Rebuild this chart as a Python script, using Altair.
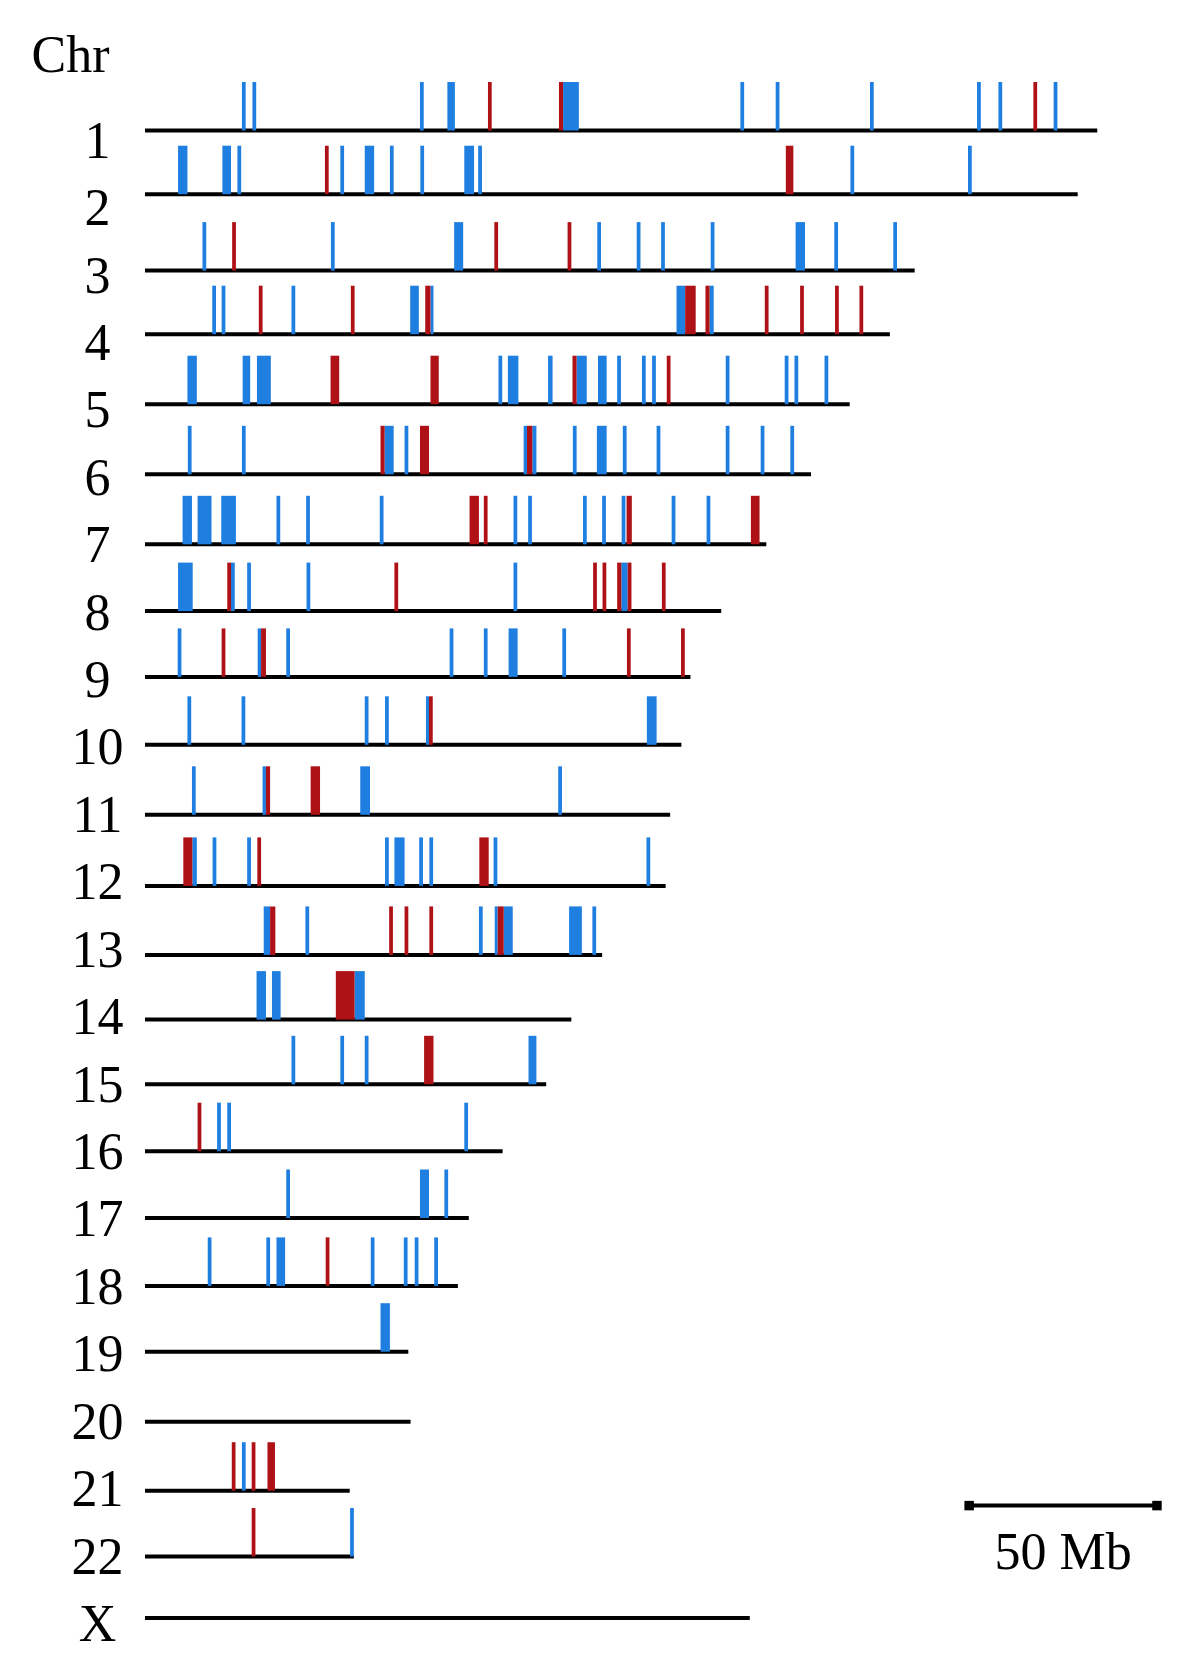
import altair as alt
import pandas as pd

# ---------------- data (in Mb) ----------------
CHROMS = ["1", "2", "3", "4", "5", "6", "7", "8", "9", "10", "11", "12",
          "13", "14", "15", "16", "17", "18", "19", "20", "21", "22", "X"]
LENGTHS_MB = [253.5, 248.3, 204.9, 198.3, 187.6, 177.3, 165.4, 153.4, 145.2,
              142.8, 139.8, 138.6, 121.7, 113.5, 106.8, 95.2, 86.2, 83.3,
              70.1, 70.7, 54.5, 55.6, 161.0]

# single value = one thin tick centred there; (start, end) = a wider block
BLUE_MARKS = {
    "1": [26.3, 29.1, 73.7, (80.5, 82.5), (111.3, 115.5), 159.0, 168.4,
          193.5, 222.0, 227.7, 242.4],
    "2": [(8.8, 11.3), (20.6, 22.9), 25.1, 52.5, (58.5, 61.0), 65.7, 73.8,
          (85.0, 87.6), 89.2, 188.3, 219.6],
    "3": [15.8, 50.0, (82.3, 84.7), 120.9, 131.4, 137.9, 151.1, (173.2, 175.7),
          184.0, 199.7],
    "4": [18.4, 20.9, 39.5, (70.6, 72.9), (76.0, 76.8), (141.5, 143.8),
          (150.3, 151.4)],
    "5": [(11.3, 13.8), (26.0, 28.0), (29.8, 33.5), 94.6, (96.6, 99.4),
          (107.3, 108.5), (114.9, 117.6), (120.6, 122.9), 126.2, 132.8, 135.5,
          155.1, 170.8, 173.4, 181.4],
    "6": [11.9, 26.3, (63.8, 66.2), 69.6, (100.8, 101.7), (103.1, 104.2),
          114.4, (120.3, 122.9), 127.7, 136.7, 155.1, 164.4, 172.3],
    "7": [(10.0, 12.5), (14.0, 17.7), (20.3, 24.2), 35.5, 43.4, 63.0, 98.6,
          102.5, 117.1, 122.2, 127.4, 140.7, 150.0],
    "8": [(8.8, 12.7), (22.9, 23.9), 27.7, 43.5, 98.6, (126.8, 128.5)],
    "9": [9.2, (30.0, 30.9), 38.1, 81.6, 90.7, (96.8, 99.2), 111.6],
    "10": [11.8, 26.2, 59.0, 64.4, (74.8, 75.6), (133.6, 136.2)],
    "11": [13.0, (31.3, 32.2), (57.3, 59.9), 110.5],
    "12": [(12.6, 13.8), 18.5, 27.7, 64.4, (66.4, 69.1), 73.5, 76.2, 93.3, 134.0],
    "13": [(31.6, 33.3), 43.2, 89.4, (93.1, 93.9), (95.5, 97.9), (112.9, 116.3),
           119.6],
    "14": [(29.7, 32.2), (33.8, 36.1), (55.8, 58.5)],
    "15": [39.5, 52.5, 59.0, (102.1, 104.2)],
    "16": [19.7, 22.4, 85.5],
    "17": [38.1, (73.2, 75.6), 80.2],
    "18": [17.2, 32.8, (35.0, 37.3), 60.6, 69.4, 72.3, 77.5],
    "19": [(62.7, 65.2)],
    "21": [26.3],
    "22": [55.1],
}

RED_MARKS = {
    "1": [91.8, (110.2, 111.3), 237.0],
    "2": [48.4, (170.6, 172.6)],
    "3": [23.7, 93.5, 113.0],
    "4": [30.8, 55.3, (74.6, 76.0), (143.8, 146.6), (149.2, 150.3), 165.5,
          174.9, 184.2, 190.7],
    "5": [(49.4, 51.7), (76.0, 78.2), (113.8, 114.9), 139.4],
    "6": [(62.7, 63.8), (73.2, 75.6), (101.7, 103.1)],
    "7": [(86.4, 88.9), 90.7, (128.2, 129.6), (161.3, 163.6)],
    "8": [(21.9, 22.9), 66.9, 119.8, 122.3, (125.7, 126.8), (128.5, 129.5), 138.1],
    "9": [20.9, (30.9, 32.2), 128.8, 143.2],
    "10": [(75.6, 76.6)],
    "11": [(32.2, 33.3), (44.1, 46.6)],
    "12": [(10.2, 12.6), 30.4, (89.0, 91.5)],
    "13": [(33.3, 34.7), 65.5, 69.6, 76.2, (93.9, 95.5)],
    "14": [(50.8, 55.8)],
    "15": [(74.3, 76.8)],
    "16": [14.5],
    "18": [48.6],
    "21": [23.6, 28.9, (32.6, 34.6)],
    "22": [28.9],
}

SCALE_BAR_MB = 50
SCALE_BAR_LABEL = "50 Mb"
AXIS_TITLE = "Chr"

# ---------------- styling / layout constants ----------------
FONT = "Liberation Serif"
FONT_SIZE = 52
BLUE = "#1F7FE0"
RED = "#AE1116"
TICK_MB = 1.0            # width of a thin tick (Mb)
TICK_PX = 48.5           # tick height (px)
PLOT_W, PLOT_H = 1033, 1639
# vertical layout (px from top of plot): chromosome baselines, label column
LINE_Y = [122.5, 186.2, 262.6, 326.2, 396.2, 466.3, 536.3, 603.1, 668.9,
          736.8, 806.8, 877.9, 946.9, 1011.6, 1076.3, 1143.2, 1210.0, 1277.9,
          1343.7, 1413.7, 1482.7, 1548.5, 1610.0]
LABEL_Y0, LABEL_STEP = 133.2, 67.42
BAR_START_MB = 219.4
BAR_Y = 1497.6

label_y = [round(LABEL_Y0 + i * LABEL_STEP, 2) for i in range(len(CHROMS))]

lines = pd.DataFrame({"chr": CHROMS, "y": LINE_Y,
                      "start": [0.0] * len(CHROMS), "end": LENGTHS_MB})

recs = []
for kind, marks in (("blue", BLUE_MARKS), ("red", RED_MARKS)):
    for c, items in marks.items():
        yb = LINE_Y[CHROMS.index(c)]
        for it in items:
            if isinstance(it, tuple):
                s, e = it
            else:
                s, e = it - TICK_MB / 2, it + TICK_MB / 2
            recs.append({"chr": c, "y": yb, "top": yb - TICK_PX,
                         "start": s, "end": e, "kind": kind})
ticks = pd.DataFrame(recs)

bar = pd.DataFrame({"start": [BAR_START_MB], "end": [BAR_START_MB + SCALE_BAR_MB],
                    "mid": [BAR_START_MB + SCALE_BAR_MB / 2], "y": [BAR_Y],
                    "label": [SCALE_BAR_LABEL]})
caps = pd.DataFrame({"x": [BAR_START_MB, BAR_START_MB + SCALE_BAR_MB],
                     "y": [BAR_Y, BAR_Y]})

names = "[" + ",".join(f"'{c}'" for c in CHROMS) + "]"
label_expr = f"{names}[round((datum.value - {LABEL_Y0}) / {LABEL_STEP})]"

xscale = alt.Scale(domain=[0, 275], nice=False, zero=False)
yscale = alt.Scale(domain=[PLOT_H, 0], nice=False, zero=False)
yaxis = alt.Axis(values=label_y, labelExpr=label_expr, title=AXIS_TITLE,
                 titleAngle=0, titleX=-75, titleY=47, titleAlign="center",
                 titleBaseline="middle", titleFont=FONT, titleFontSize=FONT_SIZE,
                 titleFontWeight="normal", titleColor="black",
                 labelFont=FONT, labelFontSize=FONT_SIZE, labelColor="black",
                 labelAlign="center", labelBaseline="middle", labelPadding=48,
                 labelOverlap=False, domain=False, ticks=False,
                 tickSize=0, grid=False)


def Y(field="y"):
    return alt.Y(f"{field}:Q", scale=yscale, axis=yaxis)


def X(field):
    return alt.X(f"{field}:Q", scale=xscale, axis=None)


chrom_lines = alt.Chart(lines).mark_rule(color="black", strokeWidth=4).encode(
    x=X("start"), x2="end:Q", y=Y())

tick_marks = alt.Chart(ticks).mark_rect().encode(
    x=X("start"), x2="end:Q", y=Y(), y2="top:Q",
    color=alt.Color("kind:N", scale=alt.Scale(domain=["blue", "red"], range=[BLUE, RED]),
                    legend=None),
)

bar_line = alt.Chart(bar).mark_rule(color="black", strokeWidth=4).encode(
    x=X("start"), x2="end:Q", y=Y())

bar_caps = alt.Chart(caps).mark_square(color="black", size=90, opacity=1).encode(
    x=X("x"), y=Y())

bar_text = alt.Chart(bar).mark_text(font=FONT, fontSize=FONT_SIZE, color="black",
                                    baseline="middle", align="center", dy=47).encode(
    x=X("mid"), y=Y(), text="label:N")

chart = alt.layer(chrom_lines, tick_marks, bar_line, bar_caps, bar_text).properties(
    width=PLOT_W, height=PLOT_H,
    padding={"left": 137, "top": 0, "right": 0, "bottom": 8},
    autosize=alt.AutoSizeParams(type="none"),
).configure_view(stroke=None)

chart.save("out.html", embed_options={"renderer": "svg", "actions": False})
